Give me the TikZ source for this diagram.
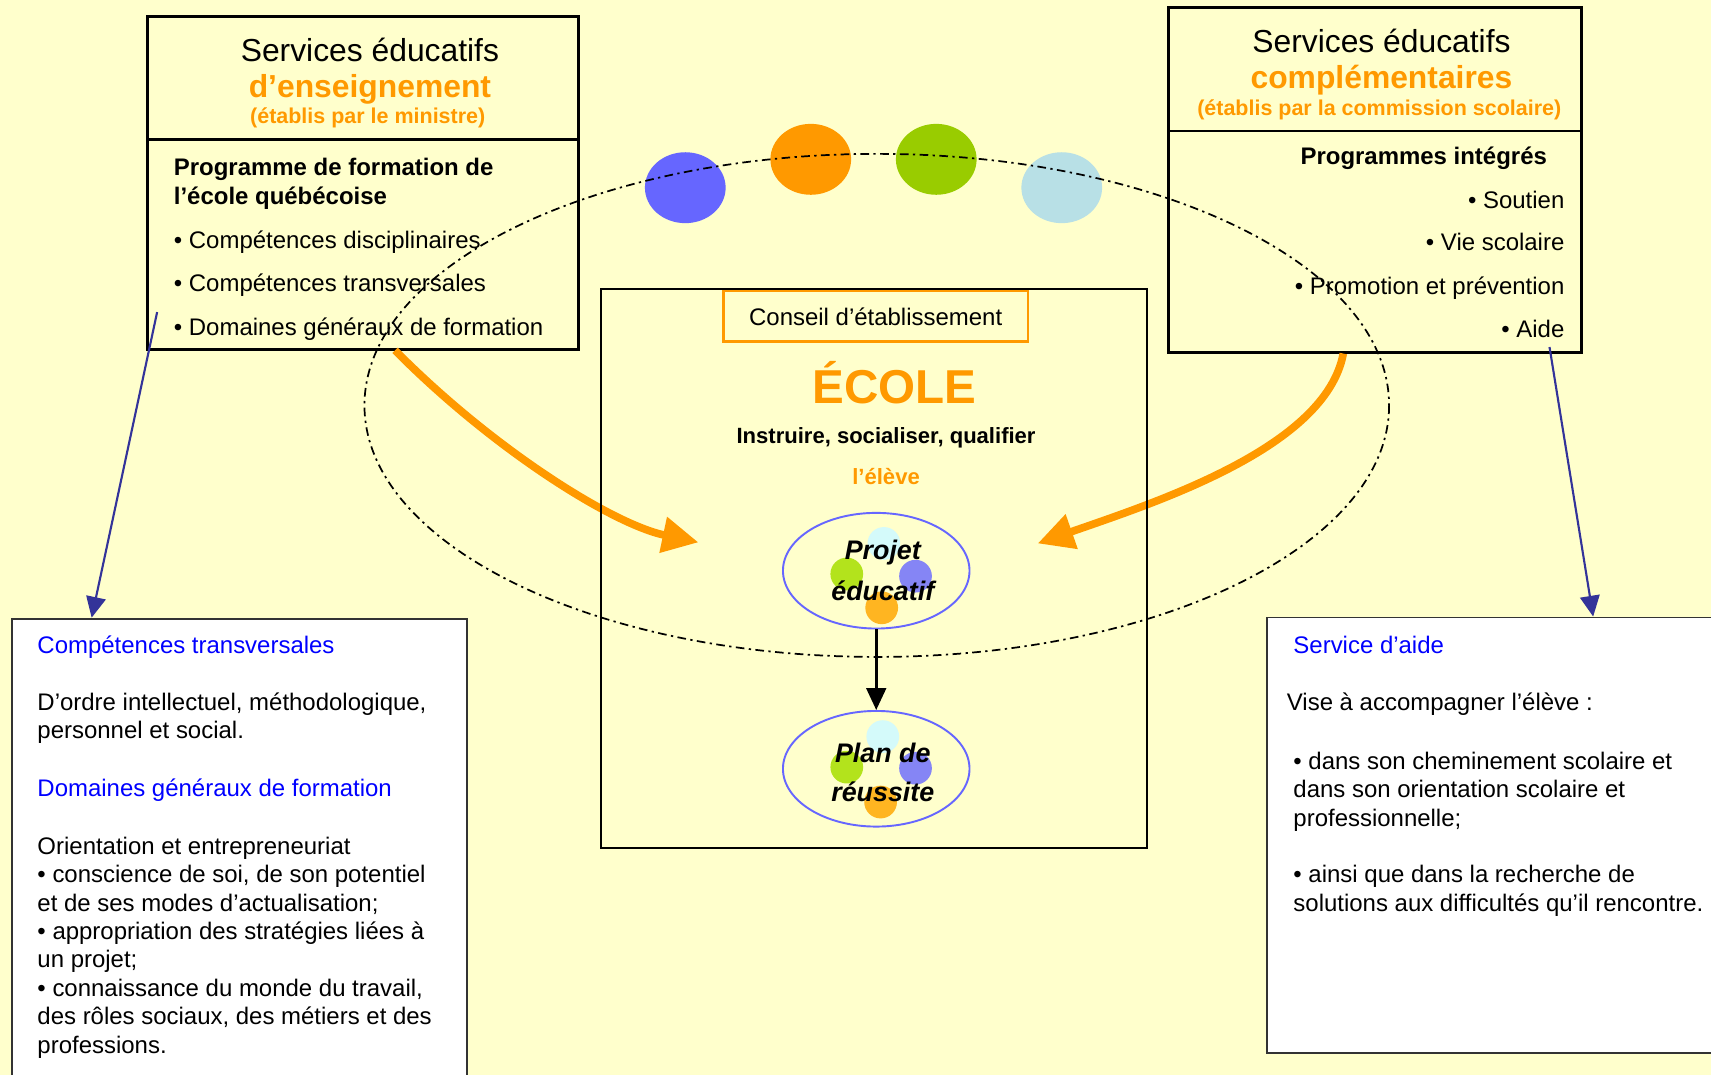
\documentclass[tikz,border=0pt]{standalone}
\usepackage{fontspec}
\setmainfont{Liberation Sans}
\usetikzlibrary{shapes.geometric}
\usetikzlibrary{arrows.meta}
\definecolor{paper}{HTML}{FFFFCC}
\definecolor{sorange}{HTML}{FF9900}
\definecolor{sblue}{HTML}{6666FF}
\definecolor{sgreen}{HTML}{99CC00}
\definecolor{scyan}{HTML}{B8E0E6}
\definecolor{linkblue}{HTML}{333399}
\definecolor{headblue}{HTML}{0000FF}
\definecolor{pcyan}{HTML}{D4FAFA}
\definecolor{pgreen}{HTML}{B3E31C}
\definecolor{ppurple}{HTML}{8585F5}
\definecolor{porange}{HTML}{FFB521}
\tikzstyle{service}=[draw, line width=1.4pt]
\tikzstyle{note}=[draw=black!80, fill=white, line width=0.9pt]
\tikzstyle{body}=[inner sep=0pt, align=left, font=\fontsize{12.5}{14.8}\selectfont]
\tikzstyle{bold}=[body, font=\bfseries\fontsize{12.5}{14.8}\selectfont]
\tikzstyle{head}=[body, text=headblue]
\tikzstyle{title}=[inner sep=0pt, font=\fontsize{16.6}{19}\selectfont]
\tikzstyle{otitle}=[title, text=sorange, font=\bfseries\fontsize{16.6}{19}\selectfont]
\tikzstyle{subtitle}=[inner sep=0pt, text=sorange, font=\bfseries\fontsize{11.2}{13}\selectfont]
\tikzstyle{bigdot}=[ellipse, inner sep=0pt, minimum width=1.48cm, minimum height=1.3cm]
\tikzstyle{smalldot}=[circle, inner sep=0pt, minimum size=0.6cm]
\tikzstyle{plan}=[draw=sblue, ellipse, line width=1pt, minimum width=3.42cm, minimum height=2.12cm]
\tikzstyle{plantext}=[inner sep=0pt, font=\bfseries\itshape\fontsize{14}{17}\selectfont]
\tikzstyle{bigarrow}=[sorange, line width=4pt, -{Triangle[length=0.66cm, width=0.64cm]}]
\tikzstyle{link}=[linkblue, line width=1.1pt, -{Triangle[length=0.38cm, width=0.36cm]}]

\begin{document}
\begin{tikzpicture}[x=0.02cm, y=-0.02cm]
    \fill[paper] (0,0) rectangle (1568,985);
    \useasboundingbox (0,0) rectangle (1568,985);
    \clip (0,0) rectangle (1568,985);

    % services d'enseignement
    \draw[service] (135,15) rectangle (530,320);
    \draw[service] (135,128) -- (530,128);
    \node[title, anchor=base]    (ensT) at (339,56) {Services éducatifs};
    \node[otitle, anchor=base]   (ensO) at (339,89) {d’enseignement};
    \node[subtitle, anchor=base] (ensS) at (337,113) {(établis par le ministre)};
    \node[bold, anchor=base west] (pfeq) at (159,187) {Programme de formation de\\l’école québécoise};
    \node[body, anchor=base west] (ens1) at (159,228) {• Compétences disciplinaires};
    \node[body, anchor=base west] (ens2) at (159,267) {• Compétences transversales};
    \node[body, anchor=base west] (ens3) at (159,307) {• Domaines généraux de formation};

    % services complementaires
    \draw[service] (1071,7) rectangle (1449,323);
    \draw[service] (1071,120) -- (1449,120);
    \node[title, anchor=base]    (comT) at (1266,48) {Services éducatifs};
    \node[otitle, anchor=base]   (comO) at (1266,81) {complémentaires};
    \node[subtitle, anchor=base] (comS) at (1264,106) {(établis par la commission scolaire)};
    \node[bold, anchor=base east] (prog) at (1418,151) {Programmes intégrés};
    \node[body, anchor=base east] (com1) at (1434,191) {• Soutien};
    \node[body, anchor=base east] (com2) at (1434,230) {• Vie scolaire};
    \node[body, anchor=base east] (com3) at (1434,270) {• Promotion et prévention};
    \node[body, anchor=base east] (com4) at (1434,309) {• Aide};

    % orange arrows
    \coordinate (ensout) at (362,321);
    \coordinate (ensin) at (640,497);
    \coordinate (comout) at (1231,324);
    \coordinate (comin) at (951,498);
    \draw[bigarrow] (ensout) .. controls (450,410) and (560,480) .. (ensin);
    \draw[bigarrow] (comout) .. controls (1215,410) and (1060,460) .. (comin);

    % ecole
    \draw[line width=1.2pt] (551,265) rectangle (1051,777);
    \node[draw=sorange, line width=1.1pt, minimum width=5.58cm, minimum height=0.92cm,
          font=\fontsize{12.5}{14.8}\selectfont] (conseil) at (802.5,290) {Conseil d’établissement};
    \node[inner sep=0pt, anchor=base, text=sorange, font=\bfseries\fontsize{24.8}{28}\selectfont] (ecole) at (820,370) {ÉCOLE};
    \node[inner sep=0pt, anchor=base, font=\bfseries\fontsize{11.5}{14}\selectfont] (mission) at (812,406) {Instruire, socialiser, qualifier};
    \node[inner sep=0pt, anchor=base, text=sorange, font=\bfseries\fontsize{11.5}{14}\selectfont] (eleve) at (812,444) {l’élève};

    % projet educatif et plan de reussite
    \node[plan] (projet) at (803,523) {};
    \node[smalldot, fill=pcyan]   (pj1) at (810,498) {};
    \node[smalldot, fill=pgreen]  (pj2) at (776,526) {};
    \node[smalldot, fill=ppurple] (pj3) at (839,528) {};
    \node[smalldot, fill=porange] (pj4) at (808,557) {};
    \node[plantext] (pjA) at (809,506) {Projet};
    \node[plantext] (pjB) at (809,541) {éducatif};

    \node[plan] (plan) at (803,704.5) {};
    \node[smalldot, fill=pcyan]   (pl1) at (809,675) {};
    \node[smalldot, fill=pgreen]  (pl2) at (776,703) {};
    \node[smalldot, fill=ppurple] (pl3) at (839,704) {};
    \node[smalldot, fill=porange] (pl4) at (807,735) {};
    \node[plantext] (plA) at (809,690) {Plan de};
    \node[plantext] (plB) at (809,726) {réussite};

    \draw[line width=1.4pt, -{Triangle[length=0.4cm, width=0.36cm]}] (projet) -- (plan);

    % coloured dots and dashed ring
    \node[bigdot, fill=sblue]   (dotA) at (628,172) {};
    \node[bigdot, fill=sorange] (dotB) at (743,146) {};
    \node[bigdot, fill=sgreen]  (dotC) at (858,146) {};
    \node[bigdot, fill=scyan]   (dotD) at (973,172) {};
    \draw[line width=0.9pt, dash pattern=on 4.5pt off 2.3pt on 1.2pt off 2.3pt]
        (803.5,371.5) ellipse [x radius=469.5, y radius=230.5];

    % notes
    \draw[note] (11,567) rectangle (428,1000);
    \node[head, anchor=base west] (ctT) at (34,599) {Compétences transversales};
    \node[body, anchor=base west] (ctB) at (34,677) {D’ordre intellectuel, méthodologique,\\personnel et social.};
    \node[head, anchor=base west] (dgT) at (34,730) {Domaines généraux de formation};
    \node[body, anchor=base west] (dgB) at (34,965) {Orientation et entrepreneuriat\\• conscience de soi, de son potentiel\\et de ses modes d’actualisation;\\• appropriation des stratégies liées à\\un projet;\\• connaissance du monde du travail,\\des rôles sociaux, des métiers et des\\professions.};

    \draw[note] (1161,566) rectangle (1590,965);
    \node[head, anchor=base west] (saT) at (1185,599) {Service d’aide};
    \node[body, anchor=base west] (saB) at (1179,651) {Vise à accompagner l’élève :};
    \node[body, anchor=base west] (saC) at (1185,835) {• dans son cheminement scolaire et\\dans son orientation scolaire et\\professionnelle;\\[14.8pt]• ainsi que dans la recherche de\\solutions aux difficultés qu’il rencontre.};

    % blue links
    \coordinate (ctout) at (144,286);
    \coordinate (ctin) at (84,566);
    \coordinate (saout) at (1420,318);
    \coordinate (sain) at (1460,565);
    \draw[link] (ctout) -- (ctin);
    \draw[link] (saout) -- (sain);
\end{tikzpicture}
\end{document}
